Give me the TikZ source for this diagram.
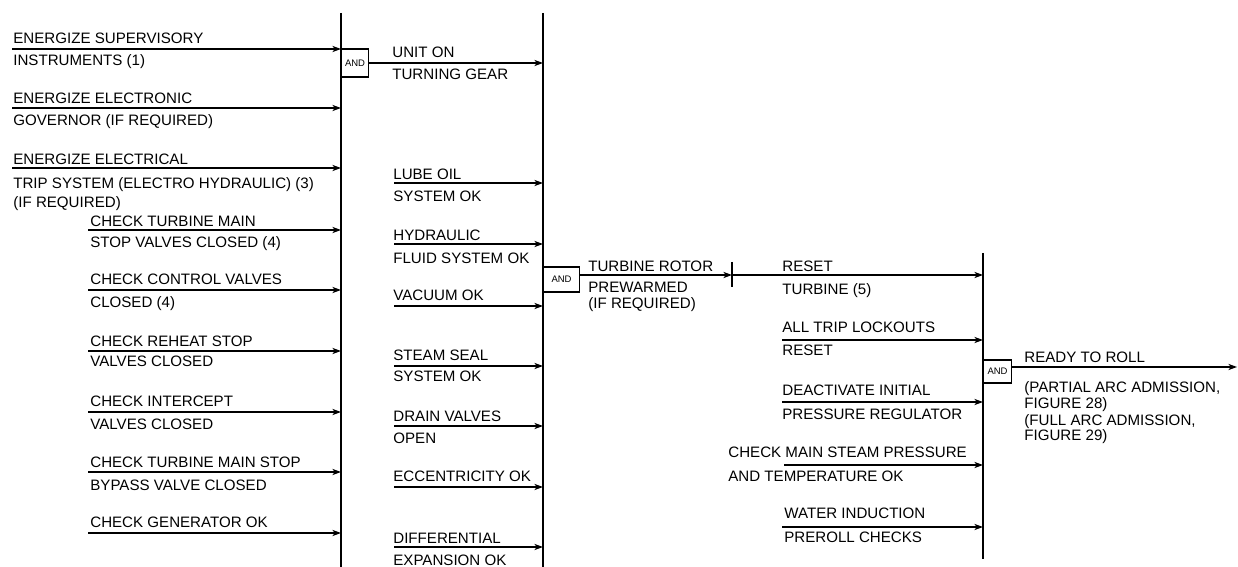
\documentclass[tikz,border=0pt]{standalone}
\usepackage{fontspec}
\setmainfont{Liberation Sans}
\usetikzlibrary{arrows.meta}

\begin{document}
\begin{tikzpicture}[x=0.02cm,y=-0.02cm,>={Stealth[length=5pt,width=3.6pt]},
  lbl/.style={anchor=base west,inner sep=0pt,font=\fontsize{8.6}{10}\selectfont},
  gate/.style={draw,anchor=west,inner sep=0pt,line width=0.6pt,font=\fontsize{5.4}{6}\selectfont},
  bar/.style={line width=0.8pt},
  feed/.style={->,line width=0.6pt}]
\useasboundingbox (0,0) rectangle (1238,567);
% vertical bars
\coordinate (b1t) at (341,13);
\coordinate (b1b) at (341,567);
\coordinate (b2t) at (543,13);
\coordinate (b2b) at (543,567);
\coordinate (b3t) at (983,253);
\coordinate (b3b) at (983,559);
\draw[bar] (b1t) -- (b1b);
\draw[bar] (b2t) -- (b2b);
\draw[bar] (b3t) -- (b3b);
% first column
\coordinate (sup) at (12,49);
\node[lbl] (sup1) at (13,44) {ENERGIZE SUPERVISORY};
\node[lbl] (sup2) at (13,66) {INSTRUMENTS (1)};
\draw[feed] (sup) -- (sup -| b1t);
\coordinate (gov) at (12,108);
\node[lbl] (gov1) at (13,104) {ENERGIZE ELECTRONIC};
\node[lbl] (gov2) at (13,126) {GOVERNOR (IF REQUIRED)};
\draw[feed] (gov) -- (gov -| b1t);
\coordinate (trip) at (12,168);
\node[lbl] (trip1) at (13,165) {ENERGIZE ELECTRICAL};
\node[lbl] (trip2) at (13,189) {TRIP SYSTEM (ELECTRO HYDRAULIC) (3)};
\node[lbl] (trip3) at (13,208) {(IF REQUIRED)};
\draw[feed] (trip) -- (trip -| b1t);
\coordinate (msv) at (88,230);
\node[lbl] (msv1) at (90,227) {CHECK TURBINE MAIN};
\node[lbl] (msv2) at (90,248) {STOP VALVES CLOSED (4)};
\draw[feed] (msv) -- (msv -| b1t);
\coordinate (cv) at (88,290);
\node[lbl] (cv1) at (90,285) {CHECK CONTROL VALVES};
\node[lbl] (cv2) at (90,308) {CLOSED (4)};
\draw[feed] (cv) -- (cv -| b1t);
\coordinate (rsv) at (88,351);
\node[lbl] (rsv1) at (90,347) {CHECK REHEAT STOP};
\node[lbl] (rsv2) at (90,367) {VALVES CLOSED};
\draw[feed] (rsv) -- (rsv -| b1t);
\coordinate (iv) at (88,412);
\node[lbl] (iv1) at (90,407) {CHECK INTERCEPT};
\node[lbl] (iv2) at (90,430) {VALVES CLOSED};
\draw[feed] (iv) -- (iv -| b1t);
\coordinate (byp) at (88,472);
\node[lbl] (byp1) at (90,468) {CHECK TURBINE MAIN STOP};
\node[lbl] (byp2) at (90,491) {BYPASS VALVE CLOSED};
\draw[feed] (byp) -- (byp -| b1t);
\coordinate (gen) at (88,533);
\node[lbl] (gen1) at (90,527) {CHECK GENERATOR OK};
\draw[feed] (gen) -- (gen -| b1t);
% first gate
\node[gate,minimum width=0.54cm,minimum height=0.56cm] (and1) at (341,63) {AND};
\node[lbl] (tg1) at (392,58) {UNIT ON};
\node[lbl] (tg2) at (392,80) {TURNING GEAR};
\draw[feed] (and1.east) -- (and1.east -| b2t);
% second column
\coordinate (lube) at (394,183);
\node[lbl] (lube1) at (393,180) {LUBE OIL};
\node[lbl] (lube2) at (393,202) {SYSTEM OK};
\draw[feed] (lube) -- (lube -| b2t);
\coordinate (hyd) at (394,244);
\node[lbl] (hyd1) at (393,241) {HYDRAULIC};
\node[lbl] (hyd2) at (393,264) {FLUID SYSTEM OK};
\draw[feed] (hyd) -- (hyd -| b2t);
\coordinate (vac) at (394,306);
\node[lbl] (vac1) at (393,301) {VACUUM OK};
\draw[feed] (vac) -- (vac -| b2t);
\coordinate (seal) at (394,366);
\node[lbl] (seal1) at (393,361) {STEAM SEAL};
\node[lbl] (seal2) at (393,382) {SYSTEM OK};
\draw[feed] (seal) -- (seal -| b2t);
\coordinate (drain) at (394,426);
\node[lbl] (drain1) at (393,422) {DRAIN VALVES};
\node[lbl] (drain2) at (393,444) {OPEN};
\draw[feed] (drain) -- (drain -| b2t);
\coordinate (ecc) at (394,487);
\node[lbl] (ecc1) at (393,481) {ECCENTRICITY OK};
\draw[feed] (ecc) -- (ecc -| b2t);
\coordinate (diff) at (394,547);
\node[lbl] (diff1) at (393,543) {DIFFERENTIAL};
\node[lbl] (diff2) at (393,565) {EXPANSION OK};
\draw[feed] (diff) -- (diff -| b2t);
% second gate
\node[gate,minimum width=0.72cm,minimum height=0.5cm] (and2) at (543,279.5) {AND};
\coordinate (tk) at (732,275);
\draw[line width=0.6pt] (tk) ++(0,-13) -- ++(0,25);
\node[lbl] (rot1) at (588,272) {TURBINE ROTOR};
\node[lbl] (rot2) at (588,293) {PREWARMED};
\node[lbl] (rot3) at (588,309) {(IF REQUIRED)};
\draw[feed] (and2.east |- tk) -- (tk);
% third column
\node[lbl] (rst1) at (782,272) {RESET};
\node[lbl] (rst2) at (782,295) {TURBINE (5)};
\draw[feed] (tk) -- (tk -| b3t);
\coordinate (lock) at (782,340);
\node[lbl] (lock1) at (782,333) {ALL TRIP LOCKOUTS};
\node[lbl] (lock2) at (782,356) {RESET};
\draw[feed] (lock) -- (lock -| b3t);
\coordinate (ipr) at (782,402);
\node[lbl] (ipr1) at (782,396) {DEACTIVATE INITIAL};
\node[lbl] (ipr2) at (782,420) {PRESSURE REGULATOR};
\draw[feed] (ipr) -- (ipr -| b3t);
\coordinate (msp) at (784,465);
\node[lbl] (msp1) at (728,458) {CHECK MAIN STEAM PRESSURE};
\node[lbl] (msp2) at (728,481) {AND TEMPERATURE OK};
\draw[feed] (msp) -- (msp -| b3t);
\coordinate (wi) at (782,527);
\node[lbl] (wi1) at (784,519) {WATER INDUCTION};
\node[lbl] (wi2) at (784,542) {PREROLL CHECKS};
\draw[feed] (wi) -- (wi -| b3t);
% last gate
\node[gate,minimum width=0.56cm,minimum height=0.46cm] (and3) at (983,371.5) {AND};
\coordinate (roll) at (1237,367);
\node[lbl] (roll1) at (1024,363) {READY TO ROLL};
\node[lbl] (roll2) at (1024,393) {(PARTIAL ARC ADMISSION,};
\node[lbl] (roll3) at (1024,409) {FIGURE 28)};
\node[lbl] (roll4) at (1024,426) {(FULL ARC ADMISSION,};
\node[lbl] (roll5) at (1024,441) {FIGURE 29)};
\draw[feed] (and3.east |- roll) -- (roll);
\end{tikzpicture}
\end{document}
